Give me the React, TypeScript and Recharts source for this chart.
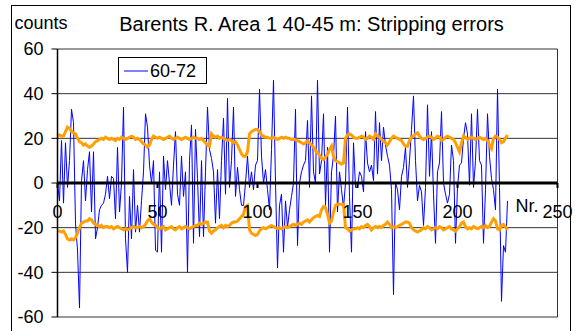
import React from 'react';
import { LineChart, Line, XAxis, YAxis, CartesianGrid, ReferenceLine, ReferenceDot, Legend } from 'recharts';

const seriesName = '60-72';
const chartTitle = 'Barents R. Area 1 40-45 m: Stripping errors';
const yTitle = 'counts';
const xTitle = 'Nr.';
const xTicks = [0, 50, 100, 150, 200, 250];
const yTicks = [-60, -40, -20, 0, 20, 40, 60];

const blue = [
  0, -8, 19, -9, 18, -2, 10, 33, 27, -18,
  -30, -56, 1, 10, -8, 6, 14, -13, 14, -25,
  -20, -12, -10, -9, -5, 3, -7, 3, 2, -16,
  16, -13, 0, 34, -25, -40, -6, -25, 6, -22,
  -10, -22, -8, 5, 31, 25, 8, 0, 10, -30,
  -31, 5, -31, 12, -3, 10, 0, -10, 8, 23,
  -5, -10, 12, -6, 5, -40, 10, 26, -27, 24,
  2, -24, 10, -24, 5, 34, 15, 11, 5, -18,
  6, -16, 10, 29, -5, 38, -2, 10, 34, -6,
  7, -3, -10, -10, 0, 12, -2, 5, -3, 8,
  10, 42, 12, 0, 6, -3, -12, 15, 46, 0,
  -38, -10, -5, -31, -8, -20, -12, -6, 0, 33,
  -28, 0, 5, 8, 10, 28, -2, 39, 5, 0,
  46, 4, 10, 31, -10, 16, -31, 5, 12, 30,
  -13, 5, -3, -11, 0, 34, -6, -31, 18, -2,
  -2, 5, 3, -4, 23, 9, 5, 8, 1, 32,
  4, 27, 10, 25, 17, 12, 8, -3, -50, 0,
  -3, -12, 3, 7, 16, -2, 10, 24, 39, 10,
  -8, -1, -4, -19, -2, 35, 3, 23, -5, -27,
  5, 9, 32, 0, -5, -9, -5, 17, 10, -27,
  -2, 8, 9, 20, 27, 22, -1, 31, -2, 10,
  33, 10, 8, -27, -3, 31, 12, 2, -3, -12,
  42, -2, -53, -28, -31, -8,
];

const upper = [
  21, 21.5, 21, 21, 23, 25, 24.5, 23, 22.5, 22,
  20, 18.5, 18, 17, 17.5, 16.5, 16, 16.5, 17.5, 18.5,
  19, 19.5, 20, 19.5, 20.5, 20, 19.5, 20, 19.5, 19,
  20, 19.5, 20.5, 20, 19.5, 20, 20.5, 21, 20.5, 19.5,
  20, 19.5, 18.5, 17.5, 17, 16, 17, 19.5, 21, 20.5,
  20, 20.5, 20, 19.5, 20, 20.5, 21, 20, 19.5, 20,
  20.5, 20, 19.5, 20, 20.5, 20, 19.5, 20, 20.5, 20,
  20, 19.5, 20, 19, 18, 17, 16.5, 22, 21, 20.5,
  21, 20, 20.5, 20, 19.5, 19, 19.5, 19, 18, 18.5,
  17, 15, 13, 12, 12, 14, 22, 23, 23.5, 24,
  24, 23, 21.5, 21, 20.5, 20.5, 20, 20, 20.5, 20,
  19.5, 20, 20.5, 20, 20.5, 20, 20, 19.5, 19.5, 19.5,
  19, 18.5, 18, 17.5, 18, 19, 18, 17, 16, 14.5,
  13.5, 12.5, 11, 10.5, 11.5, 13, 15, 16.5, 12, 10,
  9.5, 9, 8.5, 9, 20, 21.5, 22, 21.5, 20.5, 20,
  20, 20.5, 21, 20.5, 19.5, 20, 21, 20.5, 19.5, 22,
  21, 20.5, 19.5, 18.5, 18, 17, 18.5, 20, 21, 20.5,
  20, 19.5, 19, 17.5, 16.5, 16.5, 19, 20.5, 21, 22,
  22.5, 21, 20, 19.5, 20, 20.5, 21, 20.5, 19.5, 20,
  21, 20.5, 19, 19.5, 20.5, 21, 20.5, 20, 19.5, 18,
  16, 14, 18, 21, 20.5, 19.5, 20, 20.5, 20, 19.5,
  20, 20.5, 20, 19.5, 20, 19, 17, 15.5, 20, 21,
  20.5, 19.5, 18, 18.5, 20, 21.5,
];

const lower = [
  -21.5, -21.5, -22, -21.5, -23, -25, -25.5, -25, -25.5, -24.5,
  -22.5, -20, -18, -17.5, -17, -17, -16, -16.5, -18, -18.5,
  -19, -19.5, -19, -20, -19.5, -19.5, -20, -19.5, -20.5, -20,
  -19.5, -20, -20.5, -21, -20.5, -21, -20.5, -20, -19.5, -20,
  -20, -19.5, -20, -19.5, -18.5, -17, -16, -17.5, -18.5, -19,
  -20, -20.5, -20, -19.5, -21, -20.5, -20, -19.5, -20.5, -21,
  -20, -19.5, -20.5, -20, -19.5, -20, -20.5, -20, -19.5, -19,
  -19, -18, -18.5, -18, -17.5, -17.5, -21.5, -22.5, -21.5, -21,
  -20, -19.5, -19, -20, -19, -19.5, -19, -18, -17.5, -17.5,
  -17, -16, -15, -14, -10.5, -10, -21, -22.5, -23, -23.5,
  -23, -21.5, -20.5, -20, -20.5, -20, -19.5, -19, -19.5, -20,
  -20.5, -20, -20.5, -20, -19.5, -20, -19.5, -19, -18.5, -19,
  -18.5, -18, -18.5, -17.5, -17, -16.5, -17.5, -16.5, -15.5, -15,
  -14.5, -15, -12, -10.5, -11, -14, -18, -17, -13, -10,
  -9.5, -9.5, -9.5, -9.5, -20, -20.5, -21.5, -21, -20.5, -20.5,
  -20, -20.5, -19.5, -20, -19, -18.5, -19.5, -21, -20, -19.5,
  -20, -19.5, -20, -19, -18.5, -17.5, -18.5, -20, -19.5, -20,
  -19.5, -19, -18.5, -18, -17.5, -17.5, -18, -20, -21, -21.5,
  -22, -21.5, -21, -20, -20.5, -19.5, -20, -21, -20.5, -20,
  -20.5, -19.5, -20, -21, -20.5, -20, -19.5, -20.5, -21, -21.5,
  -20.5, -19.5, -18, -17.5, -19.5, -20.5, -20, -20.5, -19.5, -20,
  -20.5, -20, -19.5, -20, -19, -20, -19.5, -17.5, -16, -17,
  -20.5, -21, -19, -18.5, -19.5, -21,
];

const rows = blue.map((v, i) => ({ nr: i, blue: v, upper: upper[i], lower: lower[i] }));

const FONT = '"Liberation Sans", Arial, sans-serif';

const LegendBox = (props: any) => {
  const items = (props.payload || []).filter((p: any) => p.value === seriesName);
  return (
    <div style={{ width: 87, height: 25, border: '1px solid #000', background: '#fff', display: 'flex', alignItems: 'center', fontFamily: FONT }}>
      {items.map((p: any) => (
        <div key={p.value} style={{ display: 'flex', alignItems: 'center' }}>
          <svg width={31} height={10} style={{ display: 'block' }}>
            <line x1={5} y1={5} x2={29} y2={5} stroke={p.color} strokeWidth={1} />
          </svg>
          <span style={{ fontSize: 18, color: '#000', lineHeight: '20px' }}>{p.value}</span>
        </div>
      ))}
    </div>
  );
};

export default function App() {
  return (
    <div style={{ position: 'absolute', left: 0, top: 0, width: 577, height: 331, background: '#fff', overflow: 'hidden', fontFamily: FONT }}>
      <div style={{ position: 'absolute', left: 11, top: 5, width: 558, height: 340, border: '1px solid #000', borderBottom: 'none' }} />
      <svg width={577} height={331} style={{ position: 'absolute', left: 0, top: 0 }}>
        <text x={311.5} y={31} textAnchor="middle" fontSize={20} fontFamily={FONT} fill="#000">{chartTitle}</text>
        <text x={14.5} y={29} fontSize={18} fontFamily={FONT} fill="#000">{yTitle}</text>
      </svg>
      <div style={{ position: 'absolute', left: 0, top: 0 }}>
        <LineChart width={577} height={331} data={rows} margin={{ top: 49, right: 19.5, bottom: 14, left: 0 }} style={{ fontFamily: FONT }}>
          <CartesianGrid stroke="#333" strokeWidth={1} />
          <XAxis type="number" dataKey="nr" domain={[0, 250]} ticks={xTicks} height={0} axisLine={false} tickLine={false} tick={false} />
          <YAxis type="number" domain={[-60, 60]} ticks={yTicks} interval={0} width={57.5} tickSize={6} tickMargin={8}
            tick={{ fill: '#000', fontSize: 18, fontFamily: FONT }} axisLine={{ stroke: '#000', strokeWidth: 1.5 }} tickLine={{ stroke: '#000' }} />
          <Legend layout="horizontal" verticalAlign="middle" align="center" content={<LegendBox />}
            wrapperStyle={{ position: 'absolute', left: 118, top: 57, width: 89, height: 27 }} />
          <Line type="linear" dataKey="blue" name={seriesName} stroke="#0000FF" strokeWidth={1} dot={false} isAnimationActive={false} />
          <Line type="linear" dataKey="upper" name="upper" legendType="none" stroke="#FFA000" strokeWidth={3} dot={false} isAnimationActive={false} />
          <Line type="linear" dataKey="lower" name="lower" legendType="none" stroke="#FFA000" strokeWidth={3} dot={false} isAnimationActive={false} />
          <ReferenceLine y={0} stroke="#000" strokeWidth={3} />
          {xTicks.map((t) => (
            <ReferenceDot key={t} x={t} y={0} r={0} isFront
              shape={(p: any) => (
                <g>
                  <line x1={p.cx} y1={p.cy} x2={p.cx} y2={p.cy + 5} stroke="#000" strokeWidth={2} />
                  <text x={p.cx} y={p.cy + 35} textAnchor="middle" fontSize={18} fontFamily={FONT} fill="#000">{t}</text>
                  {t === 250 ? (
                    <text x={p.cx - 42} y={p.cy + 29} fontSize={18} fontFamily={FONT} fill="#000">{xTitle}</text>
                  ) : null}
                </g>
              )} />
          ))}
        </LineChart>
      </div>
    </div>
  );
}
